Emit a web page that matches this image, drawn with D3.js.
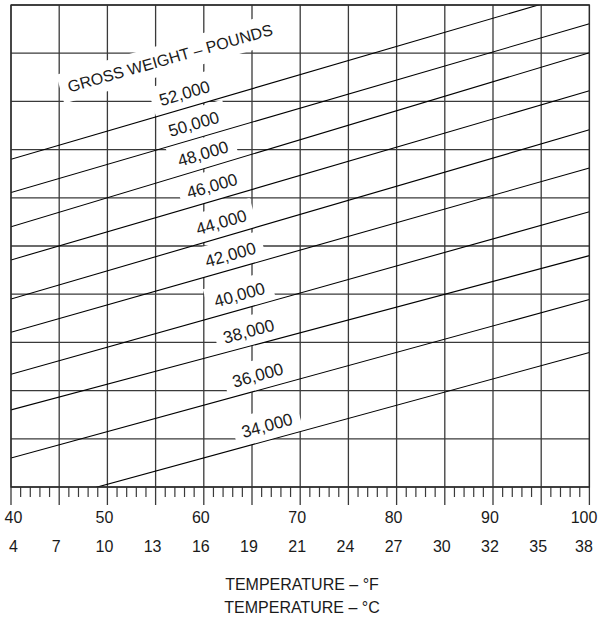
<!DOCTYPE html>
<html>
<head>
<meta charset="utf-8">
<script src="https://cdn.jsdelivr.net/npm/d3@7"></script>
<style>
  body { margin: 0; background: #fff; }
  svg text { font-family: "Liberation Sans", Arial, sans-serif; fill: #1a1a1a; }
</style>
</head>
<body>
<div id="chart"></div>
<script>
// gross weight lines, read at 40 F and 100 F in grid units (10 units full height)
var weights = [52000, 50000, 48000, 46000, 44000, 42000, 40000, 38000, 36000, 34000];
var at40  = [6.80, 6.11, 5.40, 4.71, 3.90, 3.21, 2.34, 1.60, 0.60, -0.49];
var at100 = [10.31, 9.61, 9.01, 8.22, 7.41, 6.62, 5.71, 4.80, 3.89, 2.79];

var fLabels = [40, 50, 60, 70, 80, 90, 100];
var cTicks = [40, 45, 50, 55, 60, 65, 70, 75, 80, 85, 90, 95, 100];
var cLabels = [4, 7, 10, 13, 16, 19, 21, 24, 27, 30, 32, 35, 38];

var w = 598, h = 621;
var x = d3.scaleLinear().domain([40, 100]).range([11, 589.4]);
var y = d3.scaleLinear().domain([0, 10]).range([487, 5]);

var svg = d3.select("#chart").append("svg")
    .attr("width", w)
    .attr("height", h);

svg.append("defs").append("clipPath").attr("id", "plot")
  .append("rect")
    .attr("x", x(40)).attr("y", y(10))
    .attr("width", x(100) - x(40)).attr("height", y(0) - y(10));

// grid
var grid = svg.append("g").attr("stroke", "#3a3a3a").attr("stroke-width", 1.3);
grid.selectAll("line.v")
    .data(d3.range(40, 101, 5))
  .enter().append("line")
    .attr("x1", d => x(d)).attr("x2", d => x(d))
    .attr("y1", y(10)).attr("y2", y(0) + 18);
grid.selectAll("line.h")
    .data(d3.range(0, 11, 1))
  .enter().append("line")
    .attr("x1", x(40)).attr("x2", x(100))
    .attr("y1", d => y(d)).attr("y2", d => y(d));

// minor ticks under the axis
svg.append("g").attr("stroke", "#3a3a3a").attr("stroke-width", 1.2)
  .selectAll("line")
    .data(d3.range(41, 100).filter(d => d % 5 != 0))
  .enter().append("line")
    .attr("x1", d => x(d)).attr("x2", d => x(d))
    .attr("y1", y(0)).attr("y2", y(0) + 10);

function lineY(i, t) {
  return at40[i] + (at100[i] - at40[i]) * (t - 40) / 60;
}
function angle(i) {
  var p0 = [x(40), y(at40[i])], p1 = [x(100), y(at100[i])];
  return Math.atan2(p1[1] - p0[1], p1[0] - p0[0]) * 180 / Math.PI;
}

// label spots, stepping down the chart along the lines
var labels = weights.map(function (wt, i) {
  var t = 58 + 0.95 * i;
  return {
    text: d3.format(",")(wt),
    cx: x(t),
    cy: y(lineY(i, t)) - 15.5,
    a: angle(i),
    size: 17
  };
});
labels.push({
  text: "GROSS WEIGHT \u2013 POUNDS",
  cx: 170, cy: 58, a: -15.8, size: 16
});

function place(d) {
  return "translate(" + d.cx + "," + d.cy + ")rotate(" + d.a + ")";
}

// white boxes behind the labels hide the grid
var boxes = svg.append("g");
// weight lines drawn over the boxes
var wl = svg.append("g").attr("clip-path", "url(#plot)");
var texts = svg.append("g");

texts.selectAll("text")
    .data(labels)
  .enter().append("text")
    .attr("transform", place)
    .attr("text-anchor", "middle")
    .attr("dy", "0.36em")
    .style("font-size", d => d.size + "px")
    .text(d => d.text)
    .each(function (d) { d.tw = this.getComputedTextLength(); });

boxes.selectAll("rect")
    .data(labels)
  .enter().append("rect")
    .attr("transform", place)
    .attr("fill", "#fff")
    .attr("x", d => -d.tw / 2 - 8)
    .attr("width", d => d.tw + 16)
    .attr("y", -15)
    .attr("height", 30);

wl.selectAll("line")
    .data(weights)
  .enter().append("line")
    .attr("stroke", "#000")
    .attr("stroke-width", 1.1)
    .attr("x1", x(40)).attr("y1", (d, i) => y(at40[i]))
    .attr("x2", x(100)).attr("y2", (d, i) => y(at100[i]));

// frame
svg.append("rect")
    .attr("x", x(40)).attr("y", y(10))
    .attr("width", x(100) - x(40)).attr("height", y(0) - y(10))
    .attr("fill", "none").attr("stroke", "#2a2a2a").attr("stroke-width", 1.3);

function labelX(t) {
  return Math.min(Math.max(x(t) - 3, 13.5), 584);
}

svg.selectAll("text.f")
    .data(fLabels)
  .enter().append("text")
    .attr("class", "f")
    .attr("x", d => labelX(d))
    .attr("y", 523)
    .attr("text-anchor", "middle")
    .style("font-size", "16px")
    .text(d => d);

svg.selectAll("text.c")
    .data(cLabels)
  .enter().append("text")
    .attr("class", "c")
    .attr("x", (d, i) => labelX(cTicks[i]))
    .attr("y", 552)
    .attr("text-anchor", "middle")
    .style("font-size", "16px")
    .text(d => d);

svg.append("text")
    .attr("x", 302).attr("y", 590)
    .attr("text-anchor", "middle")
    .style("font-size", "16px")
    .text("TEMPERATURE \u2013 \u00b0F");
svg.append("text")
    .attr("x", 302).attr("y", 613)
    .attr("text-anchor", "middle")
    .style("font-size", "16px")
    .text("TEMPERATURE \u2013 \u00b0C");
</script>
</body>
</html>
